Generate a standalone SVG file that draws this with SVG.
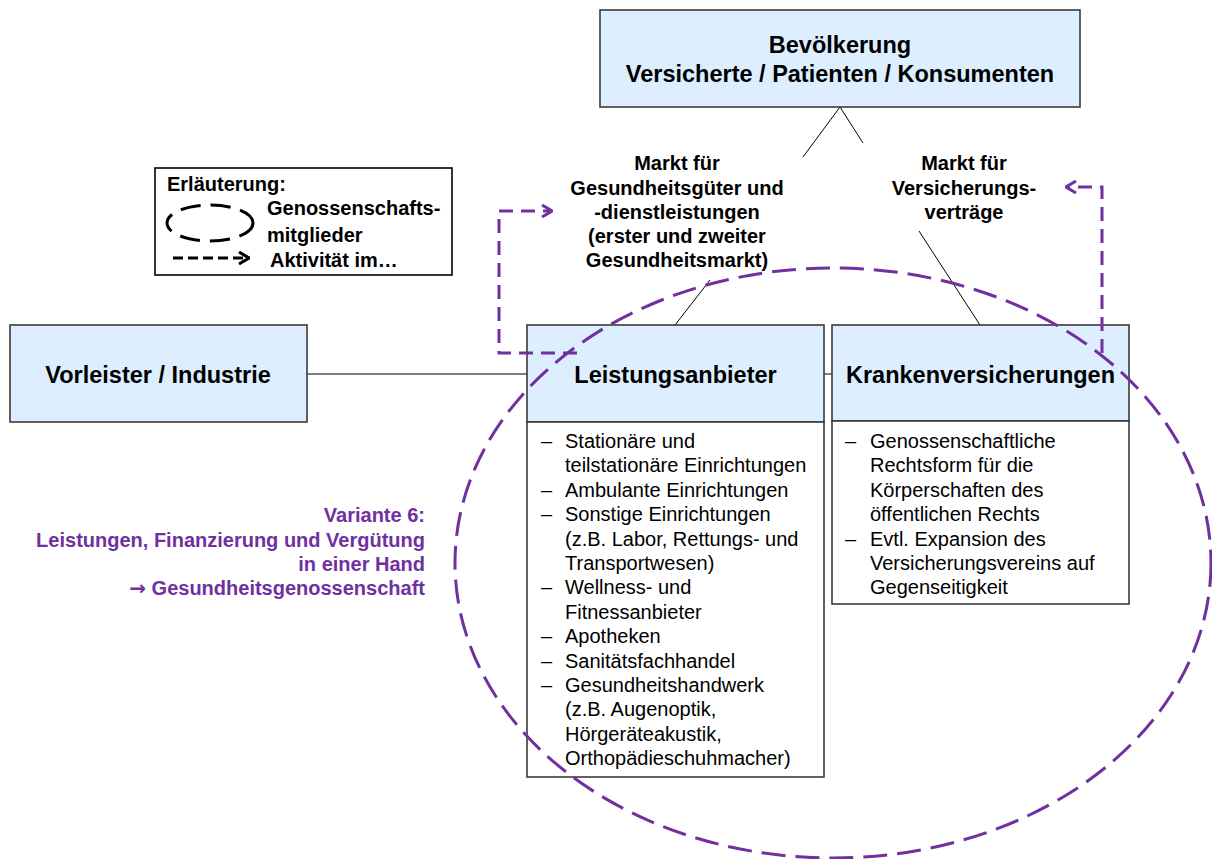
<svg xmlns="http://www.w3.org/2000/svg" width="1212" height="859" viewBox="0 0 1212 859">
<style>
.hdr{fill:#DDEEFF;stroke:#3a3a3a;stroke-width:1.6}
.body{fill:#ffffff;stroke:#3a3a3a;stroke-width:1.6}
.h{font-family:"Liberation Sans",Arial,sans-serif;font-weight:bold;font-size:23.5px;fill:#000}
.b{font-family:"Liberation Sans",Arial,sans-serif;font-weight:bold;font-size:20px;fill:#000}
.r{font-family:"Liberation Sans",Arial,sans-serif;font-size:20px;fill:#000}
.p{font-family:"Liberation Sans",Arial,sans-serif;font-weight:bold;font-size:20px;fill:#7030A0}
.arr{font-family:"DejaVu Sans",sans-serif;font-weight:bold}
.conn{stroke:#000;stroke-width:1;fill:none}
.pd{stroke:#7030A0;stroke-width:3;fill:none;stroke-dasharray:14 8}
</style>
<defs>
<marker id="pa" viewBox="0 0 12 14" refX="11" refY="7" markerWidth="12" markerHeight="14" markerUnits="userSpaceOnUse" orient="auto">
<polyline points="1,1 11,7 1,13" fill="none" stroke="#7030A0" stroke-width="3"/>
</marker>
<marker id="ka" viewBox="0 0 12 14" refX="11" refY="7" markerWidth="12" markerHeight="14" markerUnits="userSpaceOnUse" orient="auto">
<polyline points="1,1 11,7 1,13" fill="none" stroke="#000" stroke-width="3"/>
</marker>
</defs>

<g id="connectors">
<polyline class="conn" points="803,157 840,107 863,143"/>
<line class="conn" x1="710" y1="280" x2="675" y2="325"/>
<line class="conn" x1="919" y1="231" x2="980" y2="325"/>
<line class="conn" x1="307" y1="374" x2="527" y2="374"/>
<line class="conn" x1="824" y1="374" x2="832" y2="374"/>
</g>

<g id="bevoelkerung">
<rect class="hdr" x="600" y="10" width="480" height="97"/>
<text class="h" x="840" y="53" text-anchor="middle">Bevölkerung</text>
<text class="h" x="840" y="82" text-anchor="middle">Versicherte / Patienten / Konsumenten</text>
</g>

<g id="legende">
<rect x="155" y="168" width="297" height="107" fill="#fff" stroke="#000" stroke-width="1.6"/>
<text class="b" x="167" y="191">Erläuterung:</text>
<ellipse cx="210" cy="223" rx="43" ry="18" fill="none" stroke="#000" stroke-width="3" stroke-dasharray="20 10"/>
<text class="b" x="267" y="215">Genossenschafts-</text>
<text class="b" x="267" y="242">mitglieder</text>
<line x1="173" y1="258" x2="249" y2="258" stroke="#000" stroke-width="3" stroke-dasharray="10 5" marker-end="url(#ka)"/>
<text class="b" x="270" y="267">Aktivität im…</text>
</g>

<g id="markt-gesundheit">
<text class="b" x="677" y="170" text-anchor="middle">Markt für</text>
<text class="b" x="677" y="195" text-anchor="middle">Gesundheitsgüter und</text>
<text class="b" x="677" y="219" text-anchor="middle">-dienstleistungen</text>
<text class="b" x="677" y="243" text-anchor="middle">(erster und zweiter</text>
<text class="b" x="677" y="267" text-anchor="middle">Gesundheitsmarkt)</text>
</g>

<g id="markt-versicherung">
<text class="b" x="964" y="170" text-anchor="middle">Markt für</text>
<text class="b" x="964" y="195" text-anchor="middle">Versicherungs-</text>
<text class="b" x="964" y="219" text-anchor="middle">verträge</text>
</g>

<g id="vorleister">
<rect class="hdr" x="10" y="325" width="297" height="97"/>
<text class="h" x="158" y="383" text-anchor="middle">Vorleister / Industrie</text>
</g>

<g id="leistungsanbieter">
<rect class="hdr" x="527" y="325" width="297" height="97"/>
<text class="h" x="675.5" y="383" text-anchor="middle">Leistungsanbieter</text>
<rect class="body" x="527" y="422" width="297" height="355"/>
<g class="r">
<text x="541" y="448">–</text><text x="565" y="448">Stationäre und</text>
<text x="565" y="472.4">teilstationäre Einrichtungen</text>
<text x="541" y="496.8">–</text><text x="565" y="496.8">Ambulante Einrichtungen</text>
<text x="541" y="521.2">–</text><text x="565" y="521.2">Sonstige Einrichtungen</text>
<text x="565" y="545.6">(z.B. Labor, Rettungs- und</text>
<text x="565" y="570">Transportwesen)</text>
<text x="541" y="594.4">–</text><text x="565" y="594.4">Wellness- und</text>
<text x="565" y="618.8">Fitnessanbieter</text>
<text x="541" y="643.2">–</text><text x="565" y="643.2">Apotheken</text>
<text x="541" y="667.6">–</text><text x="565" y="667.6">Sanitätsfachhandel</text>
<text x="541" y="692">–</text><text x="565" y="692">Gesundheitshandwerk</text>
<text x="565" y="716.4">(z.B. Augenoptik,</text>
<text x="565" y="740.8">Hörgeräteakustik,</text>
<text x="565" y="765.2">Orthopädieschuhmacher)</text>
</g>
</g>

<g id="krankenversicherungen">
<rect class="hdr" x="832" y="325" width="297" height="96"/>
<text class="h" x="980.5" y="383" text-anchor="middle">Krankenversicherungen</text>
<rect class="body" x="832" y="421" width="297" height="183"/>
<g class="r">
<text x="845" y="448">–</text><text x="870" y="448">Genossenschaftliche</text>
<text x="870" y="472.4">Rechtsform für die</text>
<text x="870" y="496.8">Körperschaften des</text>
<text x="870" y="521.2">öffentlichen Rechts</text>
<text x="845" y="545.6">–</text><text x="870" y="545.6">Evtl. Expansion des</text>
<text x="870" y="570">Versicherungsvereins auf</text>
<text x="870" y="594.4">Gegenseitigkeit</text>
</g>
</g>

<g id="variante">
<text class="p" x="425" y="522" text-anchor="end">Variante 6:</text>
<text class="p" x="425" y="547" text-anchor="end">Leistungen, Finanzierung und Vergütung</text>
<text class="p" x="425" y="571" text-anchor="end">in einer Hand</text>
<text class="p" x="425" y="595" text-anchor="end"><tspan class="arr">→</tspan> Gesundheitsgenossenschaft</text>
</g>

<g id="aktivitaet">
<polyline class="pd" points="577,353 499,353 499,211 552,211" marker-end="url(#pa)"/>
<polyline class="pd" points="1102,353 1102,187 1066,187" marker-end="url(#pa)"/>
</g>

<g id="genossenschaft">
<ellipse cx="833" cy="563" rx="378" ry="295" fill="none" stroke="#7030A0" stroke-width="3" stroke-dasharray="24 10"/>
</g>
</svg>
